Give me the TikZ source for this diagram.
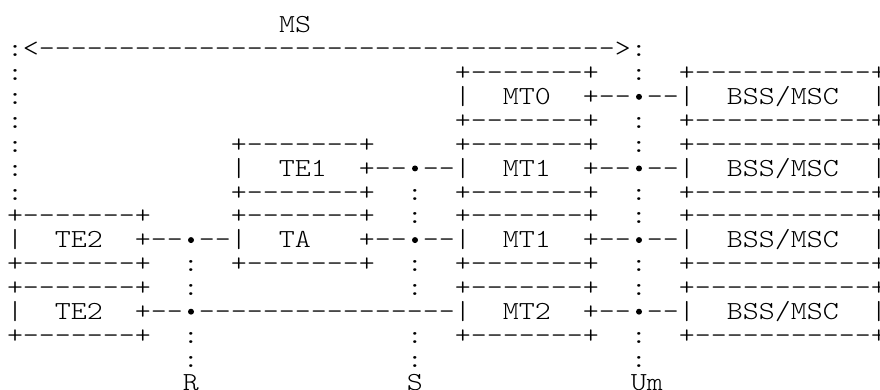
\documentclass[tikz,border=0pt]{standalone}
\usepackage{fontspec}
\setmonofont{Latin Modern Mono Light}[FakeStretch=1.172]
\ExplSyntaxOn
\cs_new:Npn \myrep #1#2 { \prg_replicate:nn {#1} {#2} }
\ExplSyntaxOff
\begin{document}
\begin{tikzpicture}[x=1pt,y=1pt,
  asciirow/.style={anchor=base west, inner sep=0pt, outer sep=0pt,
    font=\ttfamily\fontsize{26pt}{24pt}\selectfont, text=black},
  bulletdot/.style={circle, fill=black, draw=none, inner sep=0pt, minimum size=6pt}]
\useasboundingbox (0,0) rectangle (880,390);
\clip (0,0) rectangle (880,390);
\fill[white] (0,0) rectangle (880,390);
% text rows (monospace grid: column c centred at x = 15+16c)
\node[asciirow] (r1)  at ({7+16*17},357) {MS};
\node[asciirow] (r2)  at (7,333.125) {:<\myrep{36}{-}>:};
\node[asciirow] (r3)  at (7,309.25)  {:\myrep{27}{~}+\myrep{7}{-}+~~:~~+\myrep{11}{-}+};
\node[asciirow] (r4)  at (7,285.375) {:\myrep{27}{~}|~~MT0~~+--~--|~~BSS/MSC~~|};
\node[asciirow] (r5)  at (7,261.5)   {:\myrep{27}{~}+\myrep{7}{-}+~~:~~+\myrep{11}{-}+};
\node[asciirow] (r6)  at (7,237.625) {:\myrep{13}{~}+\myrep{7}{-}+\myrep{5}{~}+\myrep{7}{-}+~~:~~+\myrep{11}{-}+};
\node[asciirow] (r7)  at (7,213.75)  {:\myrep{13}{~}|~~TE1~~+--~--|~~MT1~~+--~--|~~BSS/MSC~~|};
\node[asciirow] (r8)  at (7,189.875) {:\myrep{13}{~}+\myrep{7}{-}+~~:~~+\myrep{7}{-}+~~:~~+\myrep{11}{-}+};
\node[asciirow] (r9)  at (7,166)     {+\myrep{7}{-}+\myrep{5}{~}+\myrep{7}{-}+~~:~~+\myrep{7}{-}+~~:~~+\myrep{11}{-}+};
\node[asciirow] (r10) at (7,142.125) {|~~TE2~~+--~--|~~TA~~~+--~--|~~MT1~~+--~--|~~BSS/MSC~~|};
\node[asciirow] (r11) at (7,118.25)  {+\myrep{7}{-}+~~:~~+\myrep{7}{-}+~~:~~+\myrep{7}{-}+~~:~~+\myrep{11}{-}+};
\node[asciirow] (r12) at (7,94.375)  {+\myrep{7}{-}+~~:\myrep{13}{~}:~~+\myrep{7}{-}+~~:~~+\myrep{11}{-}+};
\node[asciirow] (r13) at (7,70.5)    {|~~TE2~~+--~\myrep{16}{-}|~~MT2~~+--~--|~~BSS/MSC~~|};
\node[asciirow] (r14) at (7,46.625)  {+\myrep{7}{-}+~~:\myrep{13}{~}:~~+\myrep{7}{-}+~~:~~+\myrep{11}{-}+};
\node[asciirow] (r15) at (7,22.75)   {\myrep{11}{~}:\myrep{13}{~}:\myrep{13}{~}:};
\node[asciirow] (r16) at (7,-0.5)    {\myrep{11}{~}R\myrep{13}{~}S\myrep{13}{~}Um};
% junction bullets
\node[bulletdot] (b4a)  at ({15+16*39},{285.375+7.8}) {};
\node[bulletdot] (b7a)  at ({15+16*25},{213.75+7.8}) {};
\node[bulletdot] (b7b)  at ({15+16*39},{213.75+7.8}) {};
\node[bulletdot] (b10a) at ({15+16*11},{142.125+7.8}) {};
\node[bulletdot] (b10b) at ({15+16*25},{142.125+7.8}) {};
\node[bulletdot] (b10c) at ({15+16*39},{142.125+7.8}) {};
\node[bulletdot] (b13a) at ({15+16*11},{70.5+7.8}) {};
\node[bulletdot] (b13b) at ({15+16*39},{70.5+7.8}) {};
\end{tikzpicture}
\end{document}
